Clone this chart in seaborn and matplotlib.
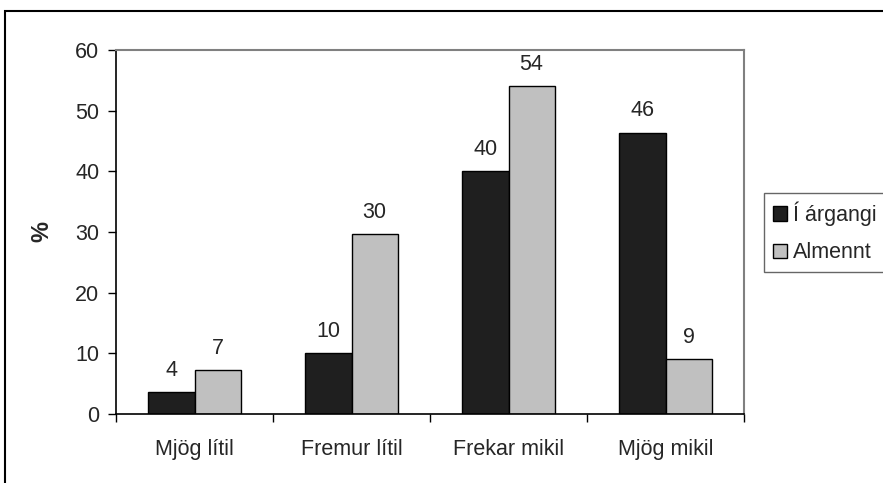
import pandas as pd
import numpy as np
import matplotlib
matplotlib.use("Agg")
import matplotlib.pyplot as plt
import seaborn as sns
from matplotlib.patches import Patch, Rectangle

categories = ["Mjög lítil", "Fremur lítil", "Frekar mikil", "Mjög mikil"]
series = ["Í árgangi", "Almennt"]
argangi = [3.6, 10.0, 40.0, 46.4]
almennt = [7.2, 29.6, 54.0, 9.0]
colors = ["#1f1f1f", "#c0c0c0"]

df = pd.DataFrame({
    "flokkur": categories * 2,
    "hopur": [series[0]] * 4 + [series[1]] * 4,
    "gildi": argangi + almennt,
})

sns.set_style("white")
plt.rcParams["font.family"] = ["Liberation Sans", "DejaVu Sans"]
fs = 15.5

fig = plt.figure(figsize=(8.83, 4.83), dpi=100)
ax = fig.add_axes([116 / 883, 69 / 483, 628 / 883, 364 / 483])

sns.barplot(data=df, x="flokkur", y="gildi", hue="hopur", order=categories,
            hue_order=series, palette=colors, width=0.586, gap=0,
            edgecolor="black", linewidth=1, saturation=1, ax=ax, legend=False)

for cont in ax.containers:
    ax.bar_label(cont, labels=[f"{v:.0f}" for v in cont.datavalues],
                 padding=8, fontsize=fs)

ax.set_ylim(0, 60)
ax.set_yticks(np.arange(0, 61, 10))
ax.set_xlim(-0.5, 3.5)
ax.set_xticks(range(4))
ax.set_xticklabels(categories)
ax.set_xticks(np.arange(-0.5, 4, 1), minor=True)
ax.tick_params(axis="x", which="major", length=0, pad=18, labelsize=fs)
ax.tick_params(axis="x", which="minor", length=6, width=1, color="black", direction="out", bottom=True)
ax.tick_params(axis="y", length=6, width=1, color="black", direction="out", left=True, pad=6, labelsize=fs)
ax.set_xlabel("")
ax.set_ylabel("%", fontsize=17, fontweight="bold", labelpad=16)

for s in ["left", "bottom"]:
    ax.spines[s].set_color("black")
    ax.spines[s].set_linewidth(1.2)
for s in ["top", "right"]:
    ax.spines[s].set_color("#808080")
    ax.spines[s].set_linewidth(1.5)

handles = [Patch(facecolor=c, edgecolor="black", linewidth=1) for c in colors]
leg = fig.legend(handles, series, loc="upper left", bbox_to_anchor=(764 / 883, 1 - 193 / 483),
                 frameon=True, fancybox=False, fontsize=fs, handlelength=0.65, handleheight=0.65,
                 handletextpad=0.3, borderpad=0.4, labelspacing=0.75, borderaxespad=0)
leg.get_frame().set_edgecolor("#404040")
leg.get_frame().set_linewidth(1)

fig.patches.append(Rectangle((5 / 883, -0.1), 1.2, 1 - 11 / 483 + 0.1, transform=fig.transFigure,
                             fill=False, edgecolor="black", linewidth=1.5))

fig.savefig("out.png", dpi=100)
